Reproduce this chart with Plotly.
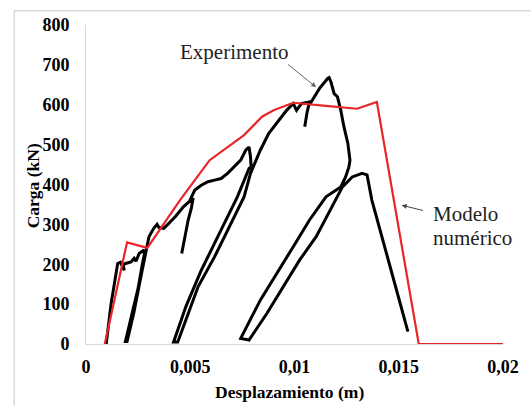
import plotly.graph_objects as go

# ---- Data ----
# Modelo numérico (red)
modelo_x = [0.0009, 0.00197, 0.00294, 0.00451, 0.00522, 0.00593, 0.00758, 0.00844,
            0.0090, 0.00994, 0.0115, 0.0130, 0.01395, 0.01596, 0.0200]
modelo_y = [0, 255, 241, 361, 411, 461, 524, 570,
            586, 605, 597, 590, 607, 0, 0]

# Experimento (black), drawn as several pieces
exp1_x = [0.00097, 0.0012, 0.00152, 0.00165, 0.00184, 0.00178, 0.0019, 0.00216, 0.00231,
          0.0024, 0.00255, 0.00278, 0.0028, 0.0027, 0.0025, 0.0022, 0.00189,
          0.00197, 0.0023, 0.0026, 0.00286, 0.00302, 0.00325, 0.00341, 0.0035, 0.00373,
          0.00396, 0.00428, 0.00467, 0.00498, 0.00514, 0.00505, 0.0049, 0.00475, 0.00459]
exp1_y = [0, 100, 202, 205, 185, 198, 202, 206, 215,
          208, 227, 236, 225, 200, 140, 70, 6,
          6, 80, 160, 225, 269, 290, 300, 292, 290,
          302, 319, 344, 360, 366, 340, 311, 270, 227]

exp2_x = [0.00498, 0.00522, 0.00553, 0.00585, 0.00617, 0.00648, 0.00679, 0.00711, 0.00742,
          0.00766, 0.00782, 0.00789, 0.00792, 0.00782, 0.00726, 0.00648, 0.00553, 0.0048,
          0.0042, 0.0044, 0.00538, 0.00617, 0.00695, 0.00758, 0.00789, 0.0081, 0.00836,
          0.00876, 0.00923, 0.00962, 0.00994, 0.0101, 0.01033, 0.01072, 0.0106, 0.01049]
exp2_y = [360, 386, 398, 407, 411, 415, 428, 444, 461,
          486, 494, 469, 444, 440, 369, 286, 185, 95,
          5, 5, 144, 219, 302, 369, 428, 455, 486,
          528, 561, 586, 603, 586, 603, 607, 580, 545]

exp3_x = [0.01072, 0.0112, 0.01159, 0.01166, 0.01175, 0.0119, 0.01206, 0.01222, 0.01237,
          0.01256, 0.01266, 0.01261, 0.01245, 0.01222,
          0.01151, 0.01072, 0.00994, 0.00915, 0.00836, 0.00742, 0.00782,
          0.00868, 0.00947, 0.01025, 0.01104, 0.01182, 0.0123, 0.01277, 0.01324,
          0.01348, 0.0136, 0.01371, 0.01458, 0.01544]
exp3_y = [600, 641, 666, 668, 657, 628, 620, 586, 545,
          503, 461, 444, 419, 394,
          369, 311, 244, 177, 110, 14, 10,
          77, 144, 211, 269, 344, 394, 419, 428,
          424, 395, 361, 195, 31]

x_tickvals = [0, 0.005, 0.01, 0.015, 0.02]
x_ticktext = ["0", "0,005", "0,01", "0,015", "0,02"]
y_tickvals = [0, 100, 200, 300, 400, 500, 600, 700, 800]

RED = "#e8262a"
SERIF = "Liberation Serif"

fig = go.Figure()
for xs, ys in [(exp1_x, exp1_y), (exp2_x, exp2_y), (exp3_x, exp3_y)]:
    fig.add_trace(go.Scatter(x=xs, y=ys, mode="lines",
                             line=dict(color="black", width=3),
                             showlegend=False, hoverinfo="skip"))
fig.add_trace(go.Scatter(x=modelo_x, y=modelo_y, mode="lines",
                         line=dict(color=RED, width=2.2),
                         showlegend=False, hoverinfo="skip"))

tick_font = dict(family=SERIF, size=18, color="black", weight="bold")

fig.update_layout(
    width=531, height=406,
    margin=dict(l=86, r=21, t=25, b=62),
    paper_bgcolor="white", plot_bgcolor="white",
    xaxis=dict(range=[0, 0.02], tickvals=x_tickvals, ticktext=x_ticktext,
               showgrid=False, zeroline=False, showline=True,
               linecolor="#d9d9d9", linewidth=1, ticks="",
               tickfont=tick_font, ticklabelstandoff=6),
    yaxis=dict(range=[0, 800], tickvals=y_tickvals,
               showgrid=False, zeroline=False, showline=True,
               linecolor="#d9d9d9", linewidth=1, ticks="",
               tickfont=tick_font, ticklabelstandoff=12),
    shapes=[dict(type="rect", xref="paper", yref="paper",
                 x0=-0.172, x1=1.08, y0=-0.25, y1=1.045,
                 line=dict(color="#d9d9d9", width=1.5), layer="below")],
)

ann_font = dict(family=SERIF, size=21, color="#222222")
fig.add_annotation(text="<b>Desplazamiento (m)</b>", xref="paper", yref="paper",
                   x=0.488, y=-0.150, xanchor="center", yanchor="middle",
                   showarrow=False,
                   font=dict(family=SERIF, size=17.5, color="black"))
fig.add_annotation(text="<b>Carga (kN)</b>", xref="paper", yref="paper",
                   x=-0.125, y=0.497, xanchor="center", yanchor="middle",
                   textangle=-90, showarrow=False,
                   font=dict(family=SERIF, size=17.5, color="black"))
fig.add_annotation(text="Experimento", x=0.00443, y=732, xanchor="left",
                   yanchor="middle", showarrow=False, font=ann_font)
fig.add_annotation(text="Modelo", x=0.01656, y=327, xanchor="left",
                   yanchor="middle", showarrow=False, font=ann_font)
fig.add_annotation(text="numérico", x=0.01656, y=265, xanchor="left",
                   yanchor="middle", showarrow=False, font=ann_font)
# arrows
fig.add_annotation(text="", x=0.01104, y=644, ax=0.00962, ay=704,
                   axref="x", ayref="y", showarrow=True,
                   arrowhead=2, arrowsize=1, arrowwidth=1, arrowcolor="#666666")
fig.add_annotation(text="", x=0.01514, y=348, ax=0.01623, ay=334,
                   axref="x", ayref="y", showarrow=True,
                   arrowhead=2, arrowsize=1, arrowwidth=1, arrowcolor="#444444")

fig.write_html("out.html")
